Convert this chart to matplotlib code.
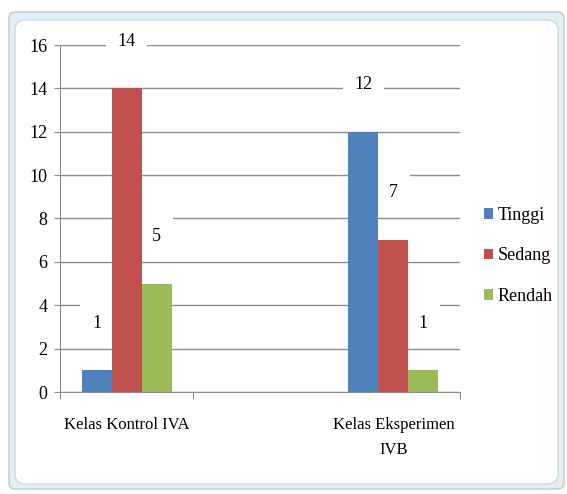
import matplotlib.pyplot as plt
import numpy
from matplotlib.patches import FancyBboxPatch

# Data
categories = ["Kelas Kontrol IVA", "Kelas Eksperimen\nIVB"]
series_names = ["Tinggi", "Sedang", "Rendah"]
tinggi = [1, 12]
sedang = [14, 7]
rendah = [5, 1]
yticks = [0, 2, 4, 6, 8, 10, 12, 14, 16]

colors = ["#4f81bd", "#c0504d", "#9bbb59"]
grid_color = "#8c8c8c"

plt.rcParams["font.family"] = ["Liberation Serif", "DejaVu Serif"]

fig = plt.figure(figsize=(5.67, 4.94), dpi=100)

# Outer chart frame (light blue rounded border)
W, H = 567.0, 494.0
frame = FancyBboxPatch((9/W, 5/H), 555/W, 477/H, transform=fig.transFigure,
                       boxstyle="round,pad=0,rounding_size=0.012",
                       fc="#e3f1f5", ec="#b9cdd2", lw=1.0, zorder=-2)
inner = FancyBboxPatch((15/W, 10/H), 543/W, 464/H, transform=fig.transFigure,
                       boxstyle="round,pad=0,rounding_size=0.02",
                       fc="white", ec="#c5d3d6", lw=0.8, zorder=-1)
fig.patches.extend([frame, inner])

ax = fig.add_axes([60/W, 1 - 392/H, 400/W, 347/H])
ax.set_facecolor("none")
ax.set_zorder(2)

x = numpy.arange(len(categories))
w = 0.1125
for i, (name, vals) in enumerate(zip(series_names, [tinggi, sedang, rendah])):
    pos = x + (i - 1)*w
    ax.bar(pos, vals, width=w, color=colors[i], label=name, zorder=3)
    for p, v in zip(pos, vals):
        # white label boxes that break the gridlines, like the original
        ax.annotate(str(v), (p, v), xytext=(0, 34), textcoords="offset points",
                    ha="center", va="center", fontsize=13, zorder=2.5,
                    annotation_clip=False,
                    bbox=dict(boxstyle="square,pad=0.65", fc="white", ec="none"))

ax.set_xlim(-0.25, 1.25)
ax.set_ylim(0, 16)
ax.set_yticks(yticks)
ax.tick_params(axis="y", labelsize=13, length=4, color=grid_color, pad=5)
ax.yaxis.grid(True, color=grid_color, lw=1.0, zorder=1)

ax.set_xticks([-0.25, 0.25, 1.25])
ax.set_xticklabels([])
ax.tick_params(axis="x", length=5, color=grid_color)
ax.set_xticks(x, minor=True)
ax.set_xticklabels(categories, minor=True, fontsize=12, linespacing=1.75)
ax.tick_params(axis="x", which="minor", length=0, pad=18)

for s in ["top", "right"]:
    ax.spines[s].set_visible(False)
for s in ["left", "bottom"]:
    ax.spines[s].set_color(grid_color)

ax.legend(loc="center left", bbox_to_anchor=(468/W, 1 - 256/H),
          bbox_transform=fig.transFigure, frameon=False, fontsize=13,
          handlelength=0.5, handleheight=0.5, handletextpad=0.25,
          labelspacing=1.3)

plt.savefig("out.png", dpi=100)
